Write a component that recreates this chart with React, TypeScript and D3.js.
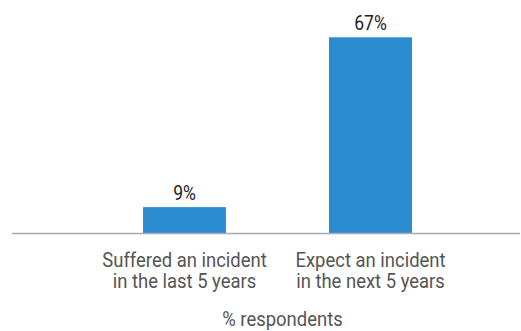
import React from "react";
import * as d3 from "d3";

const categories = ["Suffered an incident|in the last 5 years", "Expect an incident|in the next 5 years"];
const values = [9, 67];
const valueLabels = ["9%", "67%"];
const axisTitle = "% respondents";

export default function App() {
  const W = 521, H = 331;
  const baseY = 233.5;
  const x = d3.scaleBand<string>().domain(categories).range([91.5, 463.5]).paddingInner(0.554).paddingOuter(0.277);
  const y = d3.scaleLinear().domain([0, 67]).range([baseY, 37.3]);
  const font = "Roboto, 'Open Sans', sans-serif";
  const sx = 0.9;
  const T = (cx: number, cy: number, s: string, size: number, fill: string, key?: any) => (
    <text key={key} transform={`translate(${cx},${cy}) scale(${sx},1)`} textAnchor="middle" fontFamily={font} fontSize={size} fill={fill}>
      {s}
    </text>
  );
  return (
    <svg width={W} height={H} style={{ position: "absolute", left: 0, top: 0, background: "#fff" }}>
      {categories.map((c, i) => {
        const cx = x(c)! + x.bandwidth() / 2;
        return (
          <g key={c}>
            <rect x={x(c)!} y={y(values[i])} width={x.bandwidth()} height={baseY - y(values[i])} fill="#2b8ccf" />
            {T(cx, y(values[i]) - 7, valueLabels[i], 19.5, "#222")}
            {c.split("|").map((line, j) => T(cx, 267 + j * 21, line, 20.5, "#555", j))}
          </g>
        );
      })}
      <line x1={12} x2={520} y1={baseY} y2={baseY} stroke="#a3adb5" strokeWidth={1.5} />
      {T(282.5, 325.5, axisTitle, 20.5, "#555")}
    </svg>
  );
}
